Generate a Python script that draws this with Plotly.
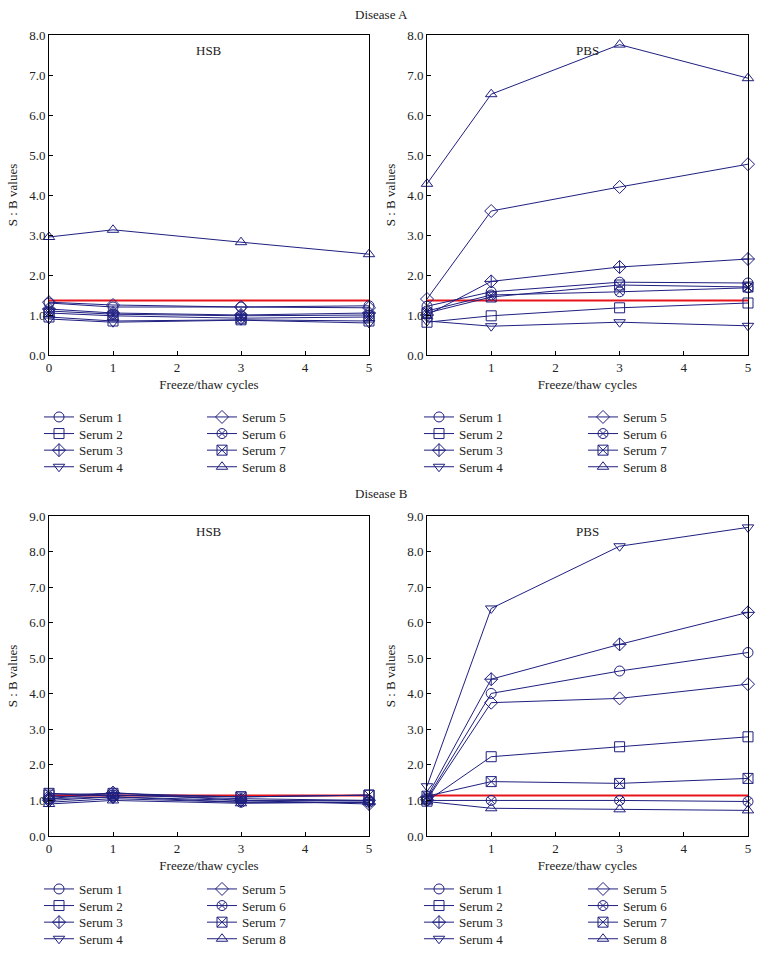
import plotly.graph_objects as go

W, H = 762, 953
cycles = [0, 1, 3, 5]
series_names = ["Serum 1", "Serum 2", "Serum 3", "Serum 4",
                "Serum 5", "Serum 6", "Serum 7", "Serum 8"]
symbols = ["circle-open", "square-open", "diamond-cross-open", "triangle-down-open",
           "diamond-open", "circle-x-open", "square-x-open", "triangle-up-open"]

# Disease A, HSB
a_hsb_s1 = [1.30, 1.20, 1.20, 1.23]
a_hsb_s2 = [0.95, 0.85, 0.88, 0.85]
a_hsb_s3 = [1.15, 1.05, 1.00, 1.05]
a_hsb_s4 = [0.90, 0.82, 0.87, 0.80]
a_hsb_s5 = [1.32, 1.25, 1.20, 1.18]
a_hsb_s6 = [1.10, 1.02, 0.98, 1.00]
a_hsb_s7 = [1.05, 0.98, 0.92, 0.95]
a_hsb_s8 = [2.95, 3.13, 2.82, 2.52]
# Disease A, PBS
a_pbs_s1 = [1.22, 1.58, 1.82, 1.80]
a_pbs_s2 = [0.82, 0.98, 1.18, 1.30]
a_pbs_s3 = [1.00, 1.84, 2.20, 2.40]
a_pbs_s4 = [0.85, 0.72, 0.82, 0.73]
a_pbs_s5 = [1.40, 3.60, 4.20, 4.77]
a_pbs_s6 = [1.10, 1.50, 1.58, 1.68]
a_pbs_s7 = [1.05, 1.45, 1.75, 1.70]
a_pbs_s8 = [4.28, 6.52, 7.76, 6.92]
# Disease B, HSB
b_hsb_s1 = [1.10, 1.15, 1.05, 1.00]
b_hsb_s2 = [1.15, 1.20, 1.10, 1.15]
b_hsb_s3 = [1.05, 1.22, 1.00, 0.90]
b_hsb_s4 = [0.95, 1.05, 0.95, 0.95]
b_hsb_s5 = [1.00, 1.10, 1.00, 1.00]
b_hsb_s6 = [1.05, 1.10, 0.95, 0.95]
b_hsb_s7 = [1.20, 1.15, 1.10, 1.15]
b_hsb_s8 = [0.90, 1.00, 0.92, 0.95]
# Disease B, PBS
b_pbs_s1 = [1.05, 4.01, 4.64, 5.16]
b_pbs_s2 = [0.98, 2.23, 2.51, 2.79]
b_pbs_s3 = [1.10, 4.41, 5.39, 6.29]
b_pbs_s4 = [1.40, 6.40, 8.15, 8.68]
b_pbs_s5 = [1.02, 3.75, 3.87, 4.27]
b_pbs_s6 = [1.00, 1.00, 1.00, 0.97]
b_pbs_s7 = [1.12, 1.53, 1.48, 1.62]
b_pbs_s8 = [0.97, 0.78, 0.75, 0.72]

cutoff_a = [1.36, 1.36]
cutoff_b = [1.14, 1.14]
cutoff_x = [0, 5]

panels = [
    dict(series=[a_hsb_s1, a_hsb_s2, a_hsb_s3, a_hsb_s4, a_hsb_s5, a_hsb_s6, a_hsb_s7, a_hsb_s8],
         cutoff=cutoff_a, label="HSB", ymax=8, xl=49, xr=369, yt=35, yb=355, zero_label=True,
         legx=(39, 202), legy=417),
    dict(series=[a_pbs_s1, a_pbs_s2, a_pbs_s3, a_pbs_s4, a_pbs_s5, a_pbs_s6, a_pbs_s7, a_pbs_s8],
         cutoff=cutoff_a, label="PBS", ymax=8, xl=427, xr=748, yt=35, yb=355, zero_label=False,
         legx=(419, 583), legy=417),
    dict(series=[b_hsb_s1, b_hsb_s2, b_hsb_s3, b_hsb_s4, b_hsb_s5, b_hsb_s6, b_hsb_s7, b_hsb_s8],
         cutoff=cutoff_b, label="HSB", ymax=9, xl=49, xr=369, yt=516, yb=836, zero_label=True,
         legx=(39, 202), legy=889),
    dict(series=[b_pbs_s1, b_pbs_s2, b_pbs_s3, b_pbs_s4, b_pbs_s5, b_pbs_s6, b_pbs_s7, b_pbs_s8],
         cutoff=cutoff_b, label="PBS", ymax=9, xl=427, xr=748, yt=516, yb=836, zero_label=False,
         legx=(419, 583), legy=889),
]
ROW_GAP = 16.6

NAVY = "#1f1f80"
RED = "#e8141c"
FONT = "Liberation Serif"
TXT = "#222"

fig = go.Figure()
layout = dict(width=W, height=H, margin=dict(l=0, r=0, t=0, b=0, autoexpand=False),
              paper_bgcolor="white", plot_bgcolor="white",
              font=dict(family=FONT, size=13, color=TXT),
              annotations=[])

leg_index = 0
for i, p in enumerate(panels):
    n = "" if i == 0 else str(i + 1)
    xa, ya = "x" + n, "y" + n
    fig.add_trace(go.Scatter(x=cutoff_x, y=p["cutoff"], mode="lines",
                             line=dict(color=RED, width=2), showlegend=False,
                             xaxis=xa, yaxis=ya, hoverinfo="skip"))
    for k, vals in enumerate(p["series"]):
        leg_index += 1
        lname = "legend" if leg_index == 1 else "legend%d" % leg_index
        fig.add_trace(go.Scatter(
            x=cycles, y=vals, mode="lines+markers", name=series_names[k],
            line=dict(color=NAVY, width=1),
            marker=dict(symbol=symbols[k], size=10, color=NAVY, line=dict(width=1, color=NAVY)),
            cliponaxis=False, xaxis=xa, yaxis=ya, legend=lname))
        col, row = divmod(k, 4)
        layout[lname] = dict(x=p["legx"][col] / W, y=1 - (p["legy"] + row * ROW_GAP) / H,
                             xanchor="left", yanchor="middle",
                             orientation="v", bgcolor="rgba(0,0,0,0)",
                             font=dict(family=FONT, size=13, color=TXT),
                             itemclick=False, itemdoubleclick=False)
    xd = [p["xl"] / W, p["xr"] / W]
    yd = [1 - p["yb"] / H, 1 - p["yt"] / H]
    layout["xaxis" + n] = dict(
        domain=xd, anchor=ya, range=[0, 5], tickvals=[0, 1, 2, 3, 4, 5],
        ticktext=(["0"] if p["zero_label"] else [""]) + ["1", "2", "3", "4", "5"],
        ticks="inside", ticklen=4, tickcolor="black", showline=True, linecolor="black",
        linewidth=1, mirror=True, showgrid=False, zeroline=False, automargin=False,
        tickfont=dict(family=FONT, size=13, color=TXT),
        title=dict(text="Freeze/thaw cycles", standoff=6,
                   font=dict(family=FONT, size=13, color=TXT)))
    layout["yaxis" + n] = dict(
        domain=yd, anchor=xa, range=[0, p["ymax"]], dtick=1, tickformat=".1f",
        ticks="inside", ticklen=4, tickcolor="black", showline=True, linecolor="black",
        linewidth=1, mirror=True, showgrid=False, zeroline=False, automargin=False,
        tickfont=dict(family=FONT, size=13, color=TXT),
        title=dict(text="S : B values", standoff=8,
                   font=dict(family=FONT, size=13, color=TXT)))
    layout["annotations"].append(dict(
        text=p["label"], xref="x" + n + " domain", yref="y" + n + " domain",
        x=0.5, y=1 - 15 / 320, showarrow=False, xanchor="center", yanchor="middle",
        font=dict(family=FONT, size=13, color=TXT)))

layout["annotations"].append(dict(text="Disease A", xref="paper", yref="paper",
                                  x=381 / W, y=1 - 14 / H, showarrow=False,
                                  xanchor="center", yanchor="middle",
                                  font=dict(family=FONT, size=13, color=TXT)))
layout["annotations"].append(dict(text="Disease B", xref="paper", yref="paper",
                                  x=381 / W, y=1 - 493 / H, showarrow=False,
                                  xanchor="center", yanchor="middle",
                                  font=dict(family=FONT, size=13, color=TXT)))

fig.update_layout(**layout)
fig.write_html("out.html", config={"displayModeBar": False},
               post_script="document.body.style.margin='0';")
